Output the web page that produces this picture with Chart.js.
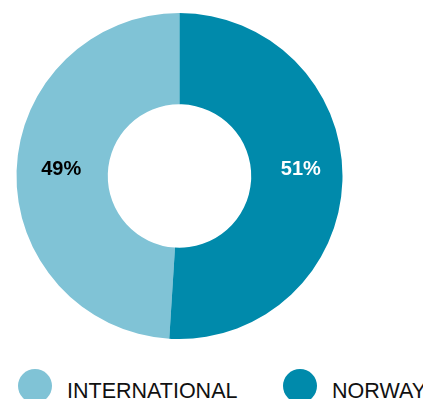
<!DOCTYPE html>
<html>
<head>
<meta charset="utf-8">
<script src="https://cdn.jsdelivr.net/npm/chart.js@4"></script>
<style>
  html, body { margin: 0; padding: 0; background: #fff; }
  body { width: 423px; height: 399px; overflow: hidden; position: relative; font-family: "Liberation Sans", Arial, sans-serif; }
  #chart { position: absolute; left: 0; top: 0; }
  #legend { position: absolute; left: 18px; top: 369px; display: flex; white-space: nowrap; }
  .item { display: flex; align-items: center; }
  .item + .item { position: absolute; left: 265px; top: 0; }
  .dot { width: 34px; height: 34px; border-radius: 50%; flex: none; }
  .txt { margin-left: 15px; font-size: 21.5px; line-height: 34px; color: #111; position: relative; top: 5px; }
</style>
</head>
<body>
<canvas id="chart" width="423" height="352"></canvas>
<div id="legend"></div>
<script>
// data
var categories = ['INTERNATIONAL', 'NORWAY'];
var shares = [49, 51];
var colors = ['#80c3d6', '#008aab'];
var labelColors = ['#000000', '#ffffff'];

var total = shares[0] + shares[1];

// percentage labels inside the ring
var sliceLabels = {
  id: 'sliceLabels',
  afterDatasetsDraw: function(chart) {
    var ctx = chart.ctx;
    var meta = chart.getDatasetMeta(0);
    ctx.save();
    ctx.font = 'bold 20px "Liberation Sans", Arial, sans-serif';
    ctx.textAlign = 'center';
    ctx.textBaseline = 'middle';
    meta.data.forEach(function(arc, i) {
      var p = arc.getCenterPoint();
      ctx.fillStyle = labelColors[i];
      ctx.fillText(shares[i] + '%', p.x + (i == 0 ? -1 : 4), arc.y - 6.5);
    });
    ctx.restore();
  }
};

var chart = new Chart(document.getElementById('chart').getContext('2d'), {
  type: 'doughnut',
  data: {
    labels: categories,
    datasets: [{
      data: shares,
      backgroundColor: colors,
      borderWidth: 0
    }]
  },
  options: {
    responsive: false,
    animation: false,
    devicePixelRatio: 1,
    cutout: '44%',
    rotation: shares[1] / total * 360,
    layout: { padding: { left: 0, right: 64, top: 13, bottom: 13 } },
    plugins: {
      legend: { display: false },
      tooltip: { enabled: false }
    }
  },
  plugins: [sliceLabels]
});

// html legend built from the chart data
var legend = document.getElementById('legend');
chart.data.labels.forEach(function(lbl, i) {
  var item = document.createElement('div');
  item.className = 'item';
  var dot = document.createElement('span');
  dot.className = 'dot';
  dot.style.background = chart.data.datasets[0].backgroundColor[i];
  var txt = document.createElement('span');
  txt.className = 'txt';
  txt.textContent = lbl;
  item.appendChild(dot);
  item.appendChild(txt);
  legend.appendChild(item);
});
</script>
</body>
</html>
